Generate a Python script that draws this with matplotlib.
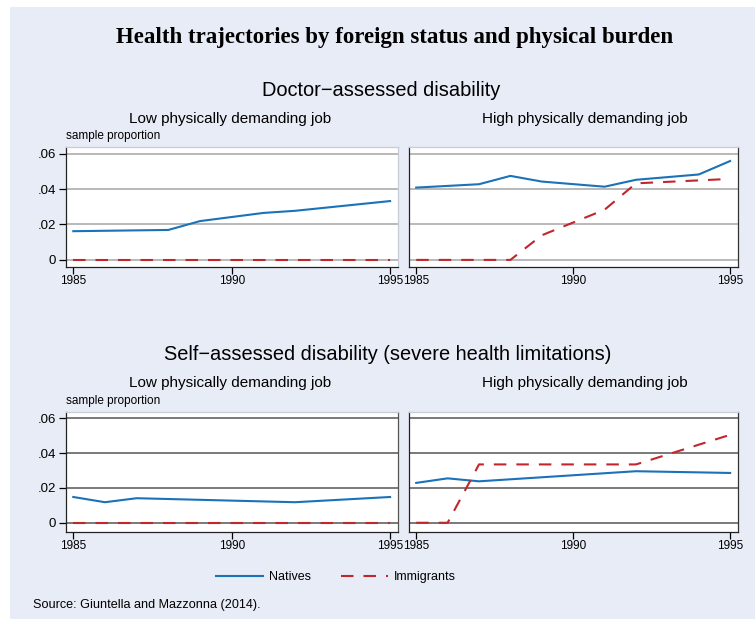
import matplotlib
matplotlib.use("Agg")
import matplotlib.pyplot as plt
from matplotlib.patches import Rectangle
from matplotlib.lines import Line2D

plt.rcParams['font.family'] = ['Liberation Sans', 'DejaVu Sans']

# Doctor-assessed disability, low physically demanding job
doc_low_nat_x = [1985, 1988, 1989, 1991, 1992, 1995]
doc_low_nat_y = [0.0162, 0.0169, 0.0219, 0.0265, 0.0277, 0.0332]
doc_low_imm_x = [1985, 1995]
doc_low_imm_y = [0.0, 0.0]

# Doctor-assessed disability, high physically demanding job
doc_high_nat_x = [1985, 1987, 1988, 1989, 1991, 1992, 1994, 1995]
doc_high_nat_y = [0.0408, 0.0427, 0.0474, 0.0442, 0.0413, 0.0452, 0.0482, 0.0558]
doc_high_imm_x = [1985, 1988, 1989, 1991, 1992, 1995]
doc_high_imm_y = [0.0, 0.0, 0.0139, 0.0283, 0.0432, 0.0457]

# Self-assessed disability, low physically demanding job
self_low_nat_x = [1985, 1986, 1987, 1992, 1995]
self_low_nat_y = [0.0148, 0.0118, 0.0141, 0.0118, 0.0148]
self_low_imm_x = [1985, 1995]
self_low_imm_y = [0.0, 0.0]

# Self-assessed disability, high physically demanding job
self_high_nat_x = [1985, 1986, 1987, 1992, 1995]
self_high_nat_y = [0.0229, 0.0255, 0.0238, 0.0296, 0.0286]
self_high_imm_x = [1985, 1986, 1987, 1992, 1995]
self_high_imm_y = [0.0, 0.0, 0.0335, 0.0335, 0.0505]

yticks = [0, 0.02, 0.04, 0.06]
ytick_labels = ['0', '.02', '.04', '.06']
xticks = [1985, 1990, 1995]

NAT_COLOR = '#1a72b8'
IMM_COLOR = '#c0272d'
BG = '#e8ecf6'
DASH = (0, (6, 4.8))

W, H = 755, 619
fig = plt.figure(figsize=(W / 100, H / 100), dpi=100)
fig.patch.set_facecolor('white')
fig.patches.append(Rectangle((10 / W, 0), 1, 1 - 7 / H, transform=fig.transFigure,
                             facecolor=BG, edgecolor='none', zorder=-10))


def px_axes(left, top, right, bottom):
    return fig.add_axes([left / W, 1 - bottom / H, (right - left) / W, (bottom - top) / H])


def draw_panel(ax, nat, imm, grid_color, show_y, ylim, right_color):
    ax.set_facecolor('white')
    ax.set_xlim(1984.77, 1995.25)
    ax.set_ylim(*ylim)
    ax.set_yticks(yticks)
    for y in yticks:
        ax.axhline(y, color=grid_color, lw=1.1, zorder=1)
    ax.plot(*nat, color=NAT_COLOR, lw=1.5, zorder=3)
    ax.plot(*imm, color=IMM_COLOR, lw=1.5, ls=DASH, zorder=3)
    ax.set_xticks(xticks)
    ax.tick_params(axis='x', direction='out', length=5, width=0.9, labelsize=8.5, pad=1)
    if show_y:
        ax.set_yticklabels(ytick_labels)
        ax.tick_params(axis='y', direction='out', length=5, width=0.9, labelsize=9.5, pad=2)
    else:
        ax.tick_params(axis='y', length=0, labelleft=False)
    ax.spines['left'].set_color('#222222')
    ax.spines['bottom'].set_color('#222222')
    ax.spines['top'].set_color('#c8ccd6')
    ax.spines['right'].set_color(right_color)
    for s in ax.spines.values():
        s.set_linewidth(0.9)


top_ylim = (-0.004, 0.0637)
bot_ylim = (-0.0053, 0.0636)

ax1 = px_axes(66, 147, 398, 267)
draw_panel(ax1, (doc_low_nat_x, doc_low_nat_y), (doc_low_imm_x, doc_low_imm_y),
           '#a6a6a6', True, top_ylim, '#c8ccd6')
ax2 = px_axes(409, 147, 738, 267)
draw_panel(ax2, (doc_high_nat_x, doc_high_nat_y), (doc_high_imm_x, doc_high_imm_y),
           '#a6a6a6', False, top_ylim, '#333333')
ax3 = px_axes(66, 412, 398, 532)
draw_panel(ax3, (self_low_nat_x, self_low_nat_y), (self_low_imm_x, self_low_imm_y),
           '#555555', True, bot_ylim, '#555555')
ax4 = px_axes(409, 412, 738, 532)
draw_panel(ax4, (self_high_nat_x, self_high_nat_y), (self_high_imm_x, self_high_imm_y),
           '#555555', False, bot_ylim, '#333333')


def ftext(x, y, s, **kw):
    fig.text(x / W, 1 - y / H, s, **kw)


ftext(395, 38, 'Health trajectories by foreign status and physical burden',
      ha='center', va='center', fontsize=16.5, fontweight='bold', family='Liberation Serif')

ftext(381, 90, 'Doctor\u2212assessed disability', ha='center', va='center', fontsize=14.4)
ftext(230, 119, 'Low physically demanding job', ha='center', va='center', fontsize=11)
ftext(585, 119, 'High physically demanding job', ha='center', va='center', fontsize=11)
ftext(66, 136, 'sample proportion', ha='left', va='center', fontsize=8.5)

ftext(388, 355, 'Self\u2212assessed disability (severe health limitations)',
      ha='center', va='center', fontsize=14.4)
ftext(230, 383, 'Low physically demanding job', ha='center', va='center', fontsize=11)
ftext(585, 383, 'High physically demanding job', ha='center', va='center', fontsize=11)
ftext(66, 401, 'sample proportion', ha='left', va='center', fontsize=8.5)

# legend
legend_handles = [
    Line2D([], [], color=NAT_COLOR, lw=1.5),
    Line2D([], [], color=IMM_COLOR, lw=1.5, ls=DASH),
]
fig.legend(legend_handles, ['Natives', 'Immigrants'], loc='center',
           bbox_to_anchor=(336 / W, 1 - 577 / H), ncol=2, frameon=False,
           fontsize=9, handlelength=3.75, columnspacing=2.4, handletextpad=0.5)

ftext(33, 605, 'Source: Giuntella and Mazzonna (2014).', ha='left', va='center', fontsize=9.1)

fig.savefig('out.png', dpi=100)
